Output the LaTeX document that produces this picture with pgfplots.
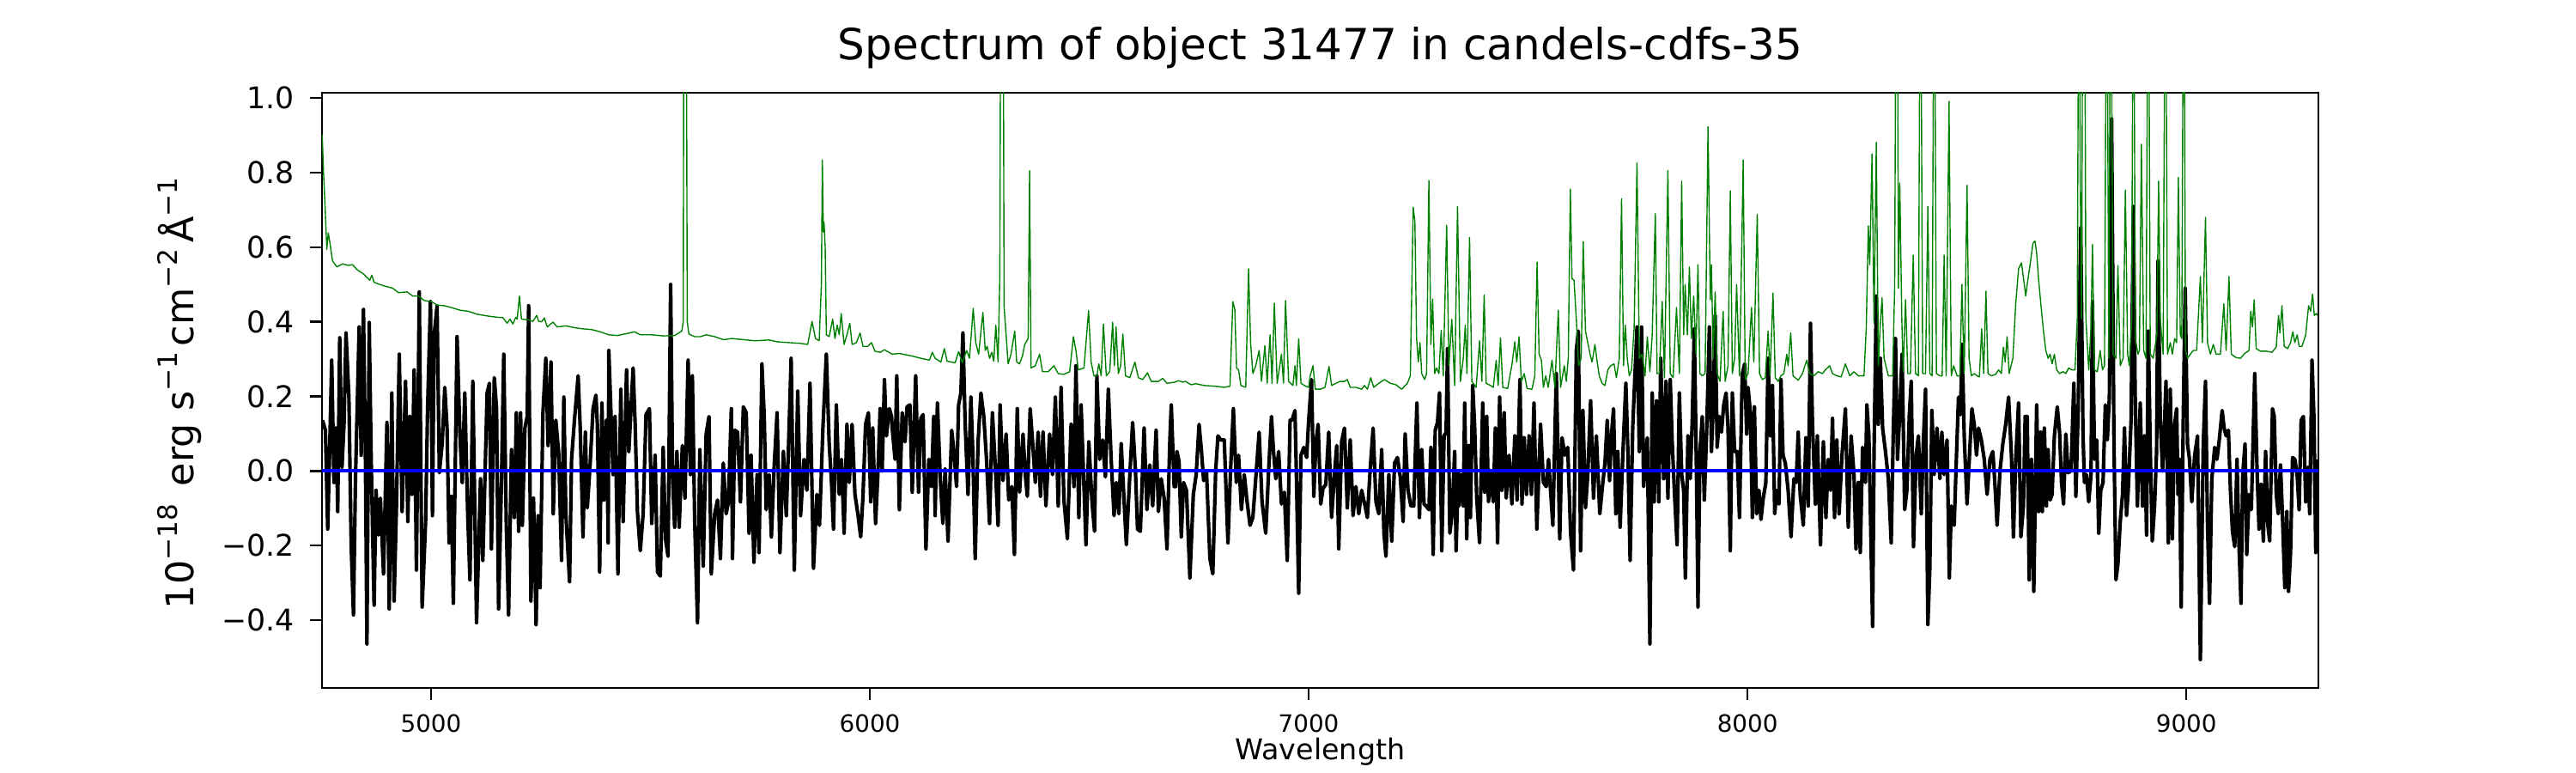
\documentclass[border=0pt]{standalone}
\usepackage{fontspec}
\setmainfont{DejaVu Sans}
\usepackage{pgfplots}
\pgfplotsset{compat=1.18}
\usepackage{pgfplotstable}
\definecolor{mplgreen}{rgb}{0,0.5,0}
\newcommand\sups[1]{\raisebox{0.42em}{\fontsize{11.2pt}{11.2pt}\selectfont #1}\kern2.4pt}

\pgfplotstableread{
x y
4752.7 0.136
4759.3 0.109
4764.5 -0.156
4769.1 0.063
4773.6 0.297
4778.8 -0.031
4784.1 0.115
4787.3 -0.109
4791.9 0.357
4797.1 0.010
4801.7 0.125
4806.2 0.370
4812.8 0.198
4818.0 -0.198
4823.2 -0.386
4827.8 -0.021
4836.2 0.386
4840.8 0.042
4846.0 0.433
4850.6 0.021
4853.9 -0.464
4859.1 0.398
4863.6 0.031
4870.2 -0.360
4874.7 -0.052
4879.9 -0.172
4884.5 -0.073
4891.7 -0.276
4899.5 0.130
4904.7 -0.370
4910.6 0.209
4915.8 -0.349
4921.0 -0.104
4927.6 0.313
4934.1 -0.109
4941.9 0.240
4947.1 -0.136
4951.7 0.146
4956.3 -0.063
4961.5 0.271
4966.7 -0.266
4973.2 0.480
4979.7 -0.365
4987.6 -0.136
4992.1 0.167
4998.7 0.454
5003.2 -0.120
5007.1 0.365
5013.7 0.443
5018.9 -0.005
5025.4 0.073
5031.3 0.224
5036.5 0.115
5041.1 -0.193
5046.3 -0.068
5050.8 -0.355
5059.3 0.360
5065.9 0.094
5071.1 -0.031
5076.9 0.209
5083.5 -0.115
5088.7 -0.292
5095.2 0.240
5103.7 -0.407
5112.8 -0.021
5118.0 -0.240
5127.8 0.209
5133.0 0.235
5137.6 -0.209
5144.1 0.250
5149.3 0.167
5153.9 -0.370
5160.4 -0.031
5165.7 0.313
5171.5 -0.146
5176.7 -0.386
5183.3 0.057
5189.8 -0.125
5194.4 0.156
5199.6 -0.162
5204.1 0.156
5208.1 -0.146
5213.9 0.115
5219.1 0.146
5222.4 0.443
5227.6 -0.349
5233.5 -0.073
5239.4 -0.412
5243.9 -0.120
5248.5 -0.313
5255.0 0.156
5261.5 0.302
5266.8 0.068
5273.3 0.292
5278.5 -0.115
5284.4 0.136
5290.9 0.047
5297.4 -0.240
5302.6 0.198
5307.2 -0.115
5315.7 -0.297
5320.2 0.031
5326.8 0.136
5335.2 0.255
5339.8 0.120
5346.3 -0.177
5351.6 0.104
5356.1 -0.099
5362.7 0.021
5369.2 0.167
5375.7 0.203
5379.0 0.125
5384.2 -0.271
5389.4 0.182
5394.0 -0.078
5399.8 0.136
5403.7 -0.193
5405.1 0.323
5414.9 -0.010
5419.4 0.146
5425.9 -0.276
5432.5 0.219
5437.7 -0.136
5445.5 0.271
5450.7 0.052
5460.5 0.276
5465.1 0.125
5470.3 -0.109
5476.8 -0.214
5483.3 -0.115
5489.9 0.151
5497.7 0.167
5502.9 -0.141
5510.7 0.042
5516.0 -0.271
5522.5 -0.282
5529.0 0.063
5534.2 -0.182
5540.1 -0.229
5546.0 0.500
5550.5 -0.021
5555.1 -0.151
5560.3 0.052
5565.5 -0.151
5572.7 0.068
5578.6 -0.073
5585.8 0.297
5591.0 -0.010
5595.5 0.255
5600.8 -0.136
5607.3 -0.407
5612.5 0.057
5620.3 -0.255
5626.9 0.099
5633.4 0.146
5638.6 -0.276
5646.4 -0.115
5652.9 -0.078
5659.5 -0.235
5666.0 0.021
5672.5 -0.115
5677.7 -0.083
5684.3 0.167
5686.9 -0.235
5692.1 0.109
5698.6 0.104
5705.1 -0.083
5711.7 0.172
5718.2 0.156
5724.7 -0.167
5729.3 0.042
5735.8 -0.245
5743.0 -0.010
5747.5 -0.219
5754.0 0.287
5759.3 0.146
5763.8 -0.104
5770.4 -0.010
5775.6 -0.177
5782.1 0.016
5788.6 0.156
5795.1 -0.219
5803.0 0.052
5809.5 -0.120
5814.7 0.068
5820.6 0.302
5827.8 -0.266
5835.6 0.214
5842.1 -0.120
5849.9 0.031
5856.5 -0.052
5863.6 0.235
5871.5 -0.261
5879.3 -0.063
5885.2 -0.146
5893.0 0.115
5900.8 0.313
5907.3 0.073
5912.6 -0.031
5917.1 -0.156
5923.6 0.177
5930.2 -0.063
5935.4 0.031
5941.3 -0.167
5947.8 0.125
5953.0 -0.031
5959.5 0.125
5966.0 -0.063
5972.6 -0.115
5979.1 -0.177
5984.3 -0.068
5990.2 0.125
5996.7 0.156
6001.9 -0.083
6006.5 0.115
6013.0 -0.141
6018.2 -0.010
6023.4 0.167
6028.0 0.000
6033.2 0.245
6037.8 0.094
6044.3 0.167
6049.5 0.146
6050.9 0.115
6057.4 0.031
6061.3 0.255
6067.2 -0.104
6073.7 0.156
6080.2 0.078
6084.8 0.172
6091.3 0.177
6096.5 -0.057
6104.4 0.255
6110.9 -0.057
6116.1 0.141
6121.3 0.151
6127.8 -0.209
6134.4 0.031
6140.2 -0.042
6145.5 0.146
6148.7 -0.120
6153.9 0.182
6160.5 -0.021
6166.3 -0.141
6171.5 0.005
6178.1 -0.188
6186.5 0.109
6191.1 0.057
6197.6 -0.042
6202.2 0.177
6207.4 0.209
6212.0 0.370
6217.2 0.125
6223.7 -0.063
6230.3 0.198
6234.8 0.042
6240.0 -0.235
6246.6 0.078
6253.1 0.209
6259.6 0.146
6266.1 0.026
6272.7 -0.141
6279.2 0.156
6285.7 0.016
6292.2 -0.146
6296.8 0.177
6303.3 -0.026
6310.5 0.099
6316.4 -0.078
6323.5 -0.042
6329.4 -0.224
6335.9 0.167
6341.1 -0.057
6349.0 0.099
6354.2 -0.010
6358.8 -0.068
6365.3 0.167
6370.5 0.083
6377.0 -0.031
6383.5 0.104
6388.8 -0.068
6394.6 0.104
6401.2 -0.094
6409.6 0.099
6416.2 -0.010
6422.7 0.198
6429.2 -0.094
6435.7 0.224
6442.2 -0.078
6450.1 -0.182
6458.6 0.125
6465.1 -0.042
6469.6 0.282
6476.2 -0.125
6481.4 0.177
6487.9 -0.042
6492.5 -0.198
6499.0 0.078
6506.2 -0.083
6512.0 -0.162
6517.3 0.255
6523.8 0.031
6530.3 0.083
6536.8 -0.016
6543.4 0.219
6549.9 0.031
6556.4 -0.120
6561.6 -0.031
6567.5 -0.115
6572.7 0.073
6577.9 -0.047
6584.5 -0.198
6591.0 -0.042
6598.8 0.130
6605.3 0.000
6609.9 -0.156
6616.4 -0.162
6624.9 0.115
6631.4 -0.104
6637.9 0.016
6644.5 -0.094
6652.3 0.109
6657.5 -0.109
6664.0 -0.021
6670.6 -0.073
6677.1 -0.209
6683.6 0.083
6686.9 0.177
6693.4 -0.042
6696.7 -0.042
6699.9 0.052
6704.5 0.026
6709.7 -0.177
6714.9 -0.031
6721.5 -0.052
6729.3 -0.287
6737.1 -0.063
6743.6 -0.010
6750.2 0.125
6755.4 0.057
6760.6 -0.026
6767.1 0.000
6774.9 -0.235
6781.5 -0.276
6788.0 0.000
6793.2 0.094
6799.7 0.083
6807.6 0.083
6816.0 -0.193
6821.9 0.000
6828.4 0.167
6835.0 -0.031
6840.2 0.042
6846.7 -0.104
6853.2 -0.010
6859.7 -0.083
6866.3 -0.146
6872.8 -0.125
6879.3 -0.021
6887.1 0.104
6893.7 -0.083
6902.1 -0.167
6908.7 0.000
6915.2 0.146
6919.8 0.052
6925.0 -0.021
6931.5 0.052
6938.0 -0.089
6944.5 -0.057
6951.1 -0.240
6957.6 0.136
6962.2 0.136
6968.7 0.162
6971.9 -0.005
6977.2 -0.328
6982.4 0.042
6988.9 0.063
6995.4 0.036
7000.0 0.136
7006.5 0.245
7011.7 -0.068
7016.3 0.073
7021.5 0.125
7027.4 -0.089
7032.6 -0.047
7039.1 -0.036
7045.6 0.104
7052.2 -0.125
7058.7 -0.010
7063.9 0.068
7068.5 -0.209
7075.0 0.078
7081.5 0.115
7088.0 -0.099
7094.6 0.083
7101.1 -0.120
7107.6 -0.042
7114.1 -0.115
7120.7 -0.052
7128.5 -0.094
7133.7 -0.125
7140.2 0.005
7146.8 0.115
7153.3 -0.083
7159.8 -0.115
7166.3 0.057
7171.5 -0.167
7176.1 -0.229
7182.6 -0.010
7189.2 -0.188
7195.7 0.021
7202.2 0.036
7208.7 -0.016
7215.2 -0.136
7219.8 0.099
7226.3 -0.052
7232.9 -0.094
7239.4 -0.094
7246.6 0.182
7252.4 -0.125
7257.6 0.057
7262.9 -0.089
7267.4 -0.094
7274.0 -0.104
7278.5 0.063
7283.7 -0.224
7288.3 0.109
7293.5 0.130
7298.1 0.209
7303.3 -0.214
7308.5 0.094
7313.1 0.104
7316.4 0.328
7321.6 -0.167
7326.8 -0.115
7332.7 0.052
7335.9 -0.214
7341.1 0.000
7342.5 -0.094
7347.7 -0.010
7352.3 -0.094
7355.5 0.182
7360.1 -0.182
7364.0 0.068
7368.6 -0.125
7373.8 0.229
7378.3 0.115
7382.9 -0.073
7389.4 -0.193
7396.6 0.182
7401.2 -0.057
7405.7 0.146
7409.7 -0.083
7414.2 -0.005
7420.7 -0.083
7425.3 0.115
7430.5 -0.193
7435.1 0.198
7440.3 -0.052
7445.5 0.156
7450.1 -0.073
7456.6 0.042
7463.1 -0.089
7469.7 0.094
7474.9 -0.078
7481.4 0.245
7486.0 -0.089
7491.2 0.089
7496.4 -0.063
7502.3 0.094
7507.5 -0.063
7513.4 0.182
7519.9 -0.156
7528.4 0.125
7534.9 -0.031
7541.4 -0.042
7546.6 0.031
7556.4 -0.146
7564.3 0.261
7572.1 -0.182
7577.3 0.089
7583.8 0.042
7590.3 0.063
7596.9 -0.167
7603.4 -0.266
7609.9 0.323
7614.5 0.375
7619.7 -0.214
7624.9 0.162
7630.8 -0.099
7636.0 -0.010
7642.5 0.188
7649.1 -0.073
7655.6 0.094
7663.4 -0.115
7669.9 -0.036
7675.1 0.021
7680.4 0.136
7685.6 -0.026
7689.5 0.089
7694.7 0.167
7699.9 -0.115
7704.5 0.052
7709.7 -0.151
7716.2 0.052
7722.8 0.235
7727.3 0.057
7732.5 -0.240
7738.4 0.115
7743.6 0.261
7748.2 0.386
7753.4 0.052
7758.6 0.386
7763.2 -0.042
7771.7 0.089
7777.6 -0.464
7782.8 0.209
7787.3 -0.083
7792.6 0.188
7797.8 -0.083
7802.3 0.302
7808.9 -0.021
7814.1 0.240
7818.6 -0.073
7823.9 0.245
7828.4 0.078
7833.7 -0.063
7839.5 -0.198
7844.7 0.209
7850.0 -0.010
7854.5 -0.052
7858.4 -0.287
7864.3 0.094
7869.5 -0.021
7874.1 0.136
7878.7 0.381
7883.9 -0.021
7887.1 -0.365
7891.7 0.052
7896.9 0.146
7901.5 -0.078
7906.7 0.099
7913.2 0.386
7917.8 0.052
7921.7 0.167
7926.3 0.417
7930.8 0.063
7936.1 0.146
7940.6 0.104
7945.8 0.177
7951.1 0.209
7955.6 0.115
7960.8 -0.214
7965.4 0.209
7970.6 0.052
7976.5 0.052
7981.7 -0.125
7986.9 0.198
7988.3 0.261
7993.5 0.287
7998.1 0.099
8001.3 0.224
8006.5 0.156
8011.1 -0.125
8015.7 0.172
8020.9 -0.115
8026.1 -0.052
8030.7 -0.130
8035.9 -0.073
8041.8 -0.031
8047.0 0.302
8052.2 0.094
8056.8 0.229
8062.0 -0.115
8066.5 -0.052
8071.8 -0.089
8076.3 0.245
8080.9 0.042
8086.1 0.021
8092.6 -0.052
8099.2 -0.177
8105.7 -0.021
8110.9 -0.031
8115.5 0.104
8120.0 -0.063
8127.2 -0.146
8133.1 0.089
8138.3 -0.094
8143.5 0.396
8148.1 0.125
8154.6 -0.089
8159.2 0.094
8166.3 -0.198
8172.9 0.078
8178.7 -0.125
8184.0 0.031
8189.2 -0.052
8193.7 0.141
8198.3 -0.125
8203.5 0.083
8208.7 -0.115
8215.3 0.042
8223.1 0.167
8229.6 -0.151
8236.1 0.094
8242.7 -0.010
8247.2 -0.209
8252.5 -0.031
8257.0 -0.219
8262.2 0.063
8268.8 -0.031
8272.0 0.177
8276.6 0.094
8280.5 -0.136
8285.1 -0.417
8288.3 0.047
8293.5 0.469
8298.1 0.125
8302.7 0.302
8307.9 0.115
8314.4 0.052
8320.9 -0.021
8327.5 -0.193
8332.0 0.094
8337.2 0.355
8341.8 0.031
8347.0 0.156
8352.3 0.313
8358.1 -0.104
8363.3 -0.052
8368.6 0.146
8373.1 0.240
8378.3 -0.203
8384.2 0.042
8389.4 0.094
8396.0 -0.115
8400.5 0.073
8405.7 0.219
8411.0 -0.412
8415.5 -0.261
8420.1 0.162
8425.3 -0.010
8431.8 0.115
8438.4 -0.021
8442.9 0.104
8448.1 -0.010
8454.7 0.083
8459.9 -0.287
8464.4 -0.094
8471.0 -0.146
8476.2 0.042
8480.8 0.198
8485.3 0.151
8489.2 0.339
8493.8 0.094
8500.3 -0.089
8506.8 0.063
8511.4 0.167
8516.6 0.125
8521.9 0.042
8526.4 0.115
8532.9 0.083
8539.5 0.031
8546.0 -0.063
8552.5 0.031
8559.0 0.052
8563.6 -0.031
8568.8 -0.146
8575.3 0.000
8581.9 0.073
8588.4 0.125
8594.9 0.198
8601.4 0.042
8606.0 -0.177
8611.2 0.031
8617.7 0.182
8623.0 -0.177
8628.8 -0.094
8632.7 0.146
8637.4 0.146
8641.9 -0.292
8647.1 0.031
8652.4 -0.323
8658.9 0.177
8663.5 -0.109
8668.0 0.104
8671.9 -0.109
8676.5 0.115
8681.1 -0.094
8685.0 0.057
8689.5 -0.078
8694.1 -0.063
8699.3 0.094
8705.9 0.172
8711.1 0.104
8715.6 -0.031
8720.2 -0.089
8725.4 0.099
8730.6 -0.005
8737.2 0.000
8743.7 0.235
8748.3 -0.068
8753.5 0.162
8759.3 0.652
8764.6 0.094
8767.8 -0.031
8772.4 -0.010
8777.6 -0.083
8782.8 -0.010
8786.1 0.454
8790.7 0.031
8795.9 0.083
8800.4 -0.167
8805.0 -0.052
8810.2 -0.031
8815.4 0.177
8820.0 0.083
8824.6 0.198
8829.8 0.944
8835.0 0.083
8839.6 -0.292
8844.1 -0.250
8849.4 -0.136
8854.6 -0.063
8859.1 0.115
8863.7 -0.120
8867.6 -0.052
8874.1 0.136
8879.4 0.709
8883.3 0.209
8888.5 -0.094
8895.0 0.182
8900.2 -0.094
8904.8 0.094
8909.4 -0.172
8913.3 0.375
8917.9 0.052
8922.4 -0.188
8927.6 -0.094
8932.2 0.052
8935.5 0.563
8940.7 0.136
8945.9 0.000
8950.5 0.136
8953.7 0.240
8958.9 -0.193
8963.5 0.219
8968.1 -0.182
8973.3 0.125
8977.9 0.167
8981.1 -0.063
8984.4 0.031
8988.3 -0.365
8992.9 0.136
8997.4 0.490
9002.6 0.073
9007.2 0.031
9012.4 -0.083
9019.0 0.042
9025.5 0.094
9032.0 -0.506
9038.5 0.068
9043.7 0.240
9048.3 -0.146
9052.9 -0.355
9058.1 -0.021
9064.6 0.063
9069.8 0.031
9075.1 0.083
9081.6 0.162
9086.1 0.115
9090.7 0.094
9095.9 0.109
9100.5 -0.052
9105.1 -0.162
9110.3 -0.203
9115.5 0.031
9120.1 -0.203
9124.6 -0.355
9128.5 -0.010
9133.8 0.073
9137.7 -0.224
9142.9 -0.063
9148.1 -0.104
9155.9 0.261
9161.2 0.000
9165.7 -0.156
9170.3 -0.036
9175.5 -0.188
9180.7 0.052
9185.9 -0.146
9189.9 -0.188
9196.4 0.167
9200.3 0.146
9204.9 -0.063
9209.4 -0.115
9214.6 0.016
9219.2 -0.125
9224.4 -0.313
9229.0 -0.109
9232.9 -0.323
9237.5 -0.219
9242.0 0.036
9247.3 0.031
9252.5 -0.010
9257.0 -0.104
9261.6 0.136
9266.8 0.146
9272.1 -0.083
9276.6 0.010
9281.2 -0.115
9286.4 0.297
9291.0 0.136
9294.9 -0.219
9299.4 0.031
}\fluxtable

\pgfplotstableread{
x y
4752.0 0.902
4755.0 0.800
4759.3 0.688
4762.5 0.594
4765.8 0.638
4769.1 0.615
4775.6 0.563
4785.4 0.547
4798.4 0.555
4811.5 0.551
4821.2 0.553
4831.0 0.540
4847.3 0.527
4860.4 0.511
4864.9 0.525
4870.2 0.506
4880.0 0.501
4896.3 0.495
4912.6 0.490
4925.6 0.478
4945.2 0.480
4958.2 0.469
4971.3 0.469
4984.3 0.457
5000.6 0.454
5013.7 0.445
5030.0 0.443
5046.3 0.438
5065.9 0.431
5085.4 0.428
5105.0 0.420
5131.1 0.415
5150.7 0.412
5163.7 0.411
5173.5 0.396
5180.0 0.407
5186.5 0.394
5193.1 0.412
5196.3 0.407
5201.5 0.469
5206.1 0.407
5222.4 0.405
5232.2 0.401
5240.7 0.417
5245.2 0.401
5251.8 0.400
5258.3 0.410
5264.8 0.386
5277.8 0.399
5287.6 0.386
5307.2 0.389
5326.8 0.384
5346.3 0.381
5365.9 0.379
5385.5 0.373
5405.1 0.365
5424.6 0.363
5444.2 0.368
5463.8 0.373
5476.8 0.365
5502.9 0.365
5529.0 0.362
5555.1 0.363
5571.4 0.375
5574.7 0.400
5576.6 1.600
5581.2 1.600
5583.8 0.400
5587.7 0.367
5600.8 0.360
5613.8 0.360
5626.9 0.365
5646.4 0.360
5666.0 0.352
5685.6 0.355
5711.7 0.352
5737.7 0.349
5770.4 0.351
5789.9 0.346
5816.0 0.344
5842.1 0.342
5858.4 0.339
5868.2 0.401
5876.0 0.355
5884.5 0.349
5889.5 0.500
5891.7 0.834
5894.0 0.640
5895.6 0.667
5898.2 0.600
5900.8 0.365
5907.3 0.360
5915.2 0.407
5920.4 0.355
5925.6 0.391
5930.2 0.365
5934.7 0.422
5941.3 0.339
5947.8 0.365
5954.3 0.396
5959.5 0.339
5969.3 0.344
5977.8 0.370
5984.3 0.334
5995.4 0.334
6003.9 0.344
6011.5 0.321
6023.4 0.318
6033.2 0.325
6050.9 0.313
6067.2 0.315
6083.5 0.311
6096.5 0.308
6116.1 0.302
6135.7 0.297
6142.2 0.318
6148.7 0.302
6161.8 0.292
6169.6 0.328
6176.1 0.294
6194.4 0.290
6202.2 0.320
6210.7 0.290
6220.5 0.323
6227.0 0.302
6235.5 0.436
6241.3 0.344
6247.9 0.313
6257.6 0.425
6262.9 0.323
6267.4 0.334
6272.7 0.302
6277.9 0.318
6282.4 0.294
6287.0 0.391
6292.2 0.292
6296.1 0.520
6298.7 1.600
6303.3 1.600
6305.9 0.440
6310.5 0.365
6315.1 0.287
6321.6 0.313
6330.1 0.375
6334.6 0.292
6341.1 0.287
6347.7 0.308
6352.9 0.339
6360.7 0.355
6364.0 0.805
6367.2 0.276
6377.0 0.282
6386.8 0.313
6393.3 0.266
6406.4 0.266
6419.4 0.282
6429.2 0.261
6442.2 0.259
6455.3 0.266
6463.8 0.360
6469.6 0.323
6474.9 0.271
6487.9 0.276
6498.4 0.430
6504.2 0.292
6510.7 0.255
6517.3 0.255
6521.8 0.287
6527.1 0.255
6532.3 0.394
6538.8 0.255
6546.6 0.266
6553.2 0.399
6557.1 0.282
6561.0 0.386
6566.2 0.261
6571.4 0.282
6576.6 0.367
6582.5 0.255
6592.3 0.250
6604.0 0.292
6611.8 0.250
6621.6 0.245
6632.7 0.263
6641.2 0.240
6657.5 0.240
6667.3 0.248
6677.1 0.235
6695.3 0.238
6703.2 0.242
6713.0 0.238
6719.5 0.240
6726.0 0.235
6732.5 0.231
6742.3 0.234
6761.9 0.229
6788.0 0.227
6807.6 0.224
6820.6 0.227
6827.1 0.454
6831.7 0.433
6835.6 0.276
6840.2 0.271
6845.4 0.229
6856.5 0.224
6863.0 0.542
6867.6 0.344
6872.8 0.261
6879.3 0.282
6887.1 0.323
6892.4 0.240
6900.2 0.336
6905.4 0.235
6911.9 0.365
6916.5 0.235
6921.7 0.450
6928.2 0.235
6938.0 0.313
6942.6 0.235
6947.2 0.457
6954.3 0.240
6964.1 0.229
6968.7 0.282
6971.9 0.229
6977.2 0.354
6982.4 0.235
6990.2 0.229
7000.0 0.224
7003.3 0.255
7009.8 0.282
7015.0 0.219
7026.1 0.219
7037.2 0.224
7046.3 0.280
7052.2 0.229
7062.0 0.235
7071.7 0.240
7081.5 0.240
7088.0 0.245
7094.6 0.224
7107.6 0.224
7120.7 0.219
7127.2 0.229
7133.7 0.219
7141.5 0.250
7148.1 0.224
7159.8 0.235
7172.8 0.245
7185.9 0.235
7198.9 0.231
7212.0 0.219
7225.0 0.235
7231.6 0.255
7238.1 0.707
7242.0 0.670
7245.9 0.355
7249.8 0.292
7253.7 0.344
7257.6 0.261
7264.2 0.245
7268.7 0.261
7273.9 0.779
7278.5 0.339
7282.4 0.461
7287.0 0.261
7291.6 0.276
7296.8 0.261
7302.0 0.377
7306.6 0.255
7314.4 0.659
7319.6 0.282
7326.1 0.407
7332.7 0.229
7339.2 0.709
7345.7 0.240
7352.3 0.302
7356.8 0.391
7360.7 0.261
7366.6 0.626
7371.8 0.240
7381.6 0.224
7389.4 0.349
7394.7 0.240
7399.9 0.472
7404.4 0.235
7414.2 0.229
7420.7 0.224
7427.3 0.297
7431.8 0.229
7437.1 0.357
7442.3 0.224
7453.4 0.221
7463.1 0.284
7469.7 0.346
7474.2 0.292
7479.4 0.360
7484.7 0.240
7491.2 0.261
7497.7 0.221
7508.8 0.219
7515.3 0.255
7520.5 0.560
7525.1 0.313
7530.3 0.297
7534.9 0.224
7540.1 0.255
7546.0 0.224
7554.5 0.297
7561.0 0.224
7568.8 0.431
7574.0 0.224
7582.5 0.282
7587.1 0.240
7591.6 0.302
7596.2 0.756
7600.1 0.516
7604.7 0.511
7609.9 0.407
7615.1 0.282
7621.0 0.302
7625.6 0.615
7630.8 0.375
7636.0 0.344
7641.2 0.313
7645.8 0.292
7652.3 0.339
7656.9 0.297
7662.1 0.255
7668.6 0.235
7675.1 0.229
7681.7 0.271
7688.2 0.282
7696.0 0.287
7701.2 0.250
7707.8 0.302
7713.0 0.730
7717.5 0.282
7721.5 0.391
7726.0 0.302
7730.6 0.255
7735.8 0.271
7741.7 0.386
7748.2 0.826
7753.4 0.302
7760.0 0.313
7766.5 0.255
7771.7 0.360
7777.6 0.266
7782.8 0.365
7789.9 0.690
7793.9 0.261
7799.1 0.261
7805.6 0.454
7810.8 0.250
7818.6 0.805
7823.9 0.261
7830.4 0.250
7838.2 0.438
7844.7 0.261
7850.0 0.777
7854.5 0.365
7857.8 0.500
7863.0 0.365
7867.6 0.547
7872.1 0.355
7877.4 0.469
7882.6 0.313
7887.1 0.553
7891.7 0.261
7896.9 0.255
7903.4 0.261
7910.0 0.923
7915.2 0.459
7917.8 0.553
7921.7 0.302
7926.3 0.480
7930.8 0.261
7937.4 0.240
7944.5 0.428
7949.1 0.240
7955.6 0.282
7960.8 0.751
7965.4 0.261
7970.6 0.302
7975.2 0.500
7981.7 0.255
7986.9 0.600
7990.2 0.834
7994.8 0.245
8001.3 0.261
8009.1 0.438
8014.4 0.292
8022.2 0.688
8027.4 0.261
8033.9 0.245
8040.5 0.250
8047.0 0.375
8051.5 0.255
8058.1 0.477
8063.3 0.250
8069.8 0.240
8076.3 0.255
8082.9 0.261
8089.4 0.313
8092.6 0.282
8098.5 0.370
8103.7 0.255
8115.5 0.243
8125.2 0.261
8135.0 0.297
8141.6 0.261
8151.3 0.255
8161.1 0.266
8170.9 0.261
8177.4 0.271
8187.2 0.282
8193.7 0.261
8203.5 0.255
8213.3 0.252
8223.1 0.287
8232.9 0.255
8242.7 0.266
8252.5 0.255
8265.5 0.255
8270.7 0.386
8275.3 0.657
8278.5 0.553
8283.8 0.850
8288.3 0.396
8293.5 0.881
8298.1 0.282
8302.7 0.396
8306.6 0.464
8311.2 0.302
8320.9 0.255
8330.7 0.255
8335.3 0.490
8339.2 1.600
8341.8 1.300
8343.8 0.490
8347.0 0.772
8351.6 0.407
8354.9 0.266
8360.1 0.459
8365.3 0.261
8371.2 0.261
8377.7 0.579
8382.9 0.261
8389.4 0.255
8394.0 1.600
8399.2 0.261
8405.7 0.261
8411.0 0.709
8415.5 0.261
8420.7 0.255
8425.3 1.600
8430.5 0.261
8438.4 0.255
8443.6 0.255
8448.1 0.579
8452.7 0.255
8459.2 0.991
8464.4 0.255
8469.7 0.282
8477.5 0.255
8484.0 0.255
8488.6 0.500
8493.8 0.261
8500.3 0.766
8504.9 0.302
8510.1 0.255
8516.6 0.261
8523.2 0.255
8528.4 0.252
8533.6 0.381
8538.2 0.261
8543.4 0.482
8548.0 0.261
8555.8 0.255
8565.5 0.259
8572.1 0.271
8578.6 0.261
8583.1 0.332
8587.1 0.292
8591.6 0.360
8596.2 0.261
8604.7 0.302
8611.2 0.448
8617.7 0.542
8624.3 0.558
8630.8 0.500
8634.0 0.469
8637.4 0.500
8643.9 0.553
8650.4 0.610
8655.0 0.617
8658.9 0.584
8663.5 0.511
8670.0 0.428
8674.5 0.375
8679.8 0.323
8685.0 0.302
8689.5 0.313
8694.1 0.287
8699.3 0.313
8704.5 0.271
8711.1 0.261
8718.9 0.266
8725.4 0.261
8731.9 0.276
8738.5 0.271
8746.3 0.271
8751.5 0.407
8755.4 1.600
8758.0 0.813
8761.3 0.407
8764.6 1.600
8767.8 1.600
8771.1 0.407
8777.6 0.271
8782.8 0.386
8786.1 0.607
8790.7 0.271
8797.2 0.266
8803.7 0.323
8808.9 0.271
8813.5 0.282
8818.7 1.600
8823.3 0.302
8827.8 1.600
8833.1 0.313
8839.6 0.302
8844.1 0.551
8849.4 0.282
8855.9 0.302
8861.1 0.753
8866.3 0.313
8870.2 0.282
8875.5 0.407
8879.4 1.600
8883.9 0.355
8889.8 0.313
8893.1 0.323
8897.6 0.876
8902.8 0.323
8908.1 0.302
8913.3 1.600
8917.8 0.313
8924.4 0.302
8932.9 0.365
8936.8 0.777
8940.7 0.407
8947.2 0.313
8952.4 1.600
8957.0 0.313
8963.5 0.344
8968.1 0.313
8973.3 0.355
8977.9 0.344
8981.8 0.787
8986.3 0.365
8989.6 0.355
8994.2 1.600
8998.1 0.323
9002.6 0.302
9009.2 0.313
9015.7 0.323
9023.5 0.323
9032.0 0.521
9036.6 0.344
9043.7 0.680
9048.3 0.344
9054.8 0.313
9061.4 0.339
9067.9 0.313
9077.7 0.313
9085.5 0.448
9090.7 0.323
9097.2 0.521
9102.5 0.313
9113.5 0.304
9123.3 0.302
9133.1 0.315
9142.9 0.323
9146.8 0.428
9150.7 0.386
9154.6 0.459
9159.2 0.328
9169.0 0.321
9182.0 0.321
9195.1 0.318
9204.9 0.332
9210.1 0.417
9213.3 0.370
9217.9 0.443
9223.1 0.334
9230.9 0.328
9237.5 0.344
9242.7 0.373
9247.3 0.344
9252.5 0.365
9257.1 0.334
9263.6 0.334
9272.1 0.365
9278.6 0.443
9283.2 0.428
9287.7 0.474
9291.6 0.417
9296.2 0.422
9299.4 0.417
}\errtable

\pgfplotstableread{
x y
4752.0 0
9300.0 0
}\modeltable

\begin{document}
\begin{tikzpicture}
\path[use as bounding box] (0,0) rectangle (1080pt,324pt);
\begin{axis}[
  at={(135pt,35.64pt)}, anchor=south west,
  width=837pt, height=249.48pt, scale only axis,
  xmin=4751.5, xmax=9301, ymin=-0.582, ymax=1.014,
  xtick={5000,6000,7000,8000,9000},
  xticklabels={5000,6000,7000,8000,9000},
  ytick={-0.4,-0.2,0,0.2,0.4,0.6,0.8,1.0},
  yticklabels={−0.4,−0.2,0.0,0.2,0.4,0.6,0.8,1.0},
  minor tick num=0,
  tick align=outside, xtick pos=left, ytick pos=left,
  major tick length=5pt,
  every tick/.style={black, line width=0.9pt},
  axis line style={black, line width=0.9pt},
  xticklabel style={font=\fontsize{10pt}{12pt}\selectfont, anchor=base, inner sep=0pt, yshift=-13.36pt},
  yticklabel style={font=\fontsize{12.5pt}{14pt}\selectfont, anchor=east, inner sep=0pt, xshift=-6.5pt},
  title={Spectrum of object 31477 in candels-cdfs-35},
  title style={at={(axis description cs:0.5,1.0308)}, anchor=base, inner sep=0pt, font=\fontsize{18pt}{20pt}\selectfont},
  xlabel={Wavelength},
  xlabel style={at={(axis description cs:0.5,-0.1198)}, anchor=base, inner sep=0pt, font=\fontsize{12pt}{14pt}\selectfont},
  ylabel={10\sups{−18}\ erg s\sups{−1}cm\sups{−2}Å\sups{−1}},
  ylabel style={at={(axis description cs:-0.0645,0.5)}, anchor=base, inner sep=0pt, font=\fontsize{16pt}{18pt}\selectfont},
  clip=true,
]
\addplot[black, line width=1.5pt, line join=round] table[x=x,y=y] {\fluxtable};
\addplot[mplgreen, line width=0.5pt, line join=round] table[x=x,y=y] {\errtable};
\addplot[blue, line width=1.5pt] table[x=x,y=y] {\modeltable};
\end{axis}
\end{tikzpicture}
\end{document}
